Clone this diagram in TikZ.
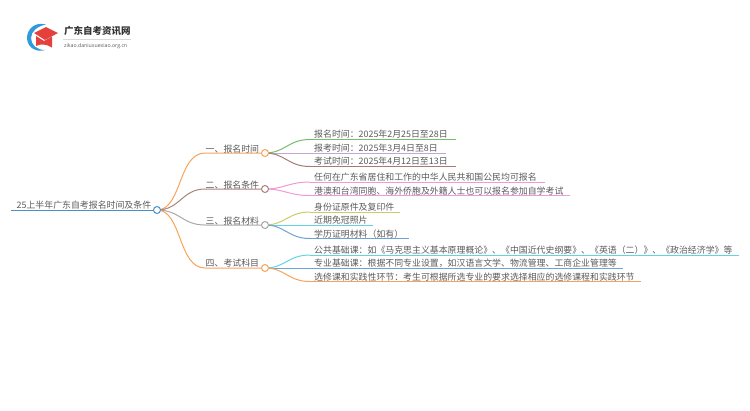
\documentclass[tikz,border=0pt]{standalone}
\usepackage{fontspec}
\setmainfont{Noto Sans CJK SC}
\newfontfamily\latinf{Open Sans}
\definecolor{txt}{HTML}{5A5A5A}
\definecolor{cblue}{HTML}{4A90C8}
\definecolor{corange}{HTML}{F9A25A}
\definecolor{cbrown}{HTML}{A9837B}
\definecolor{cgray}{HTML}{A8A8A8}
\definecolor{cgreen}{HTML}{72BF6A}
\definecolor{cpurple}{HTML}{C4A5D8}
\definecolor{cbrownb}{HTML}{A67C72}
\definecolor{cpink}{HTML}{EE9AD6}
\definecolor{colive}{HTML}{CDCB62}
\definecolor{ccyan}{HTML}{62D3E3}
\definecolor{cbl}{HTML}{6BA3D8}
\definecolor{capred}{HTML}{E5403C}
\definecolor{arcblue}{HTML}{2F9BDC}
\tikzset{
  x=1pt,y=-1pt,
  lbl/.style={inner sep=0pt,anchor=base west,text=txt,font=\fontsize{8.9pt}{10pt}\selectfont},
  wire/.style={line width=1pt},
  hub/.style={circle,draw,fill=white,line width=1pt,minimum size=7pt,inner sep=0pt},
}
\newcommand{\bcurve}[3]{\draw[wire,#1] (#2) .. controls ([xshift=20pt]#2) and ([xshift=-22pt]#3) .. (#3);}
\begin{document}
\begin{tikzpicture}
\useasboundingbox (0,0) rectangle (750,410);
% logo
\fill[arcblue] (46,24.5) .. controls (35,21.5) and (27,29) .. (27,38) .. controls (27,47) and (36,53) .. (45,50) .. controls (37,50) and (31,45) .. (31,38) .. controls (31,31) and (38,26) .. (46,24.5) -- cycle;
\fill[capred] (36,36) -- (36,46) .. controls (41,43.5) and (46,44) .. (52,47.5) -- (52,36.5) -- (44,41) -- cycle;
\fill[capred] (34,33) -- (46,27) -- (58,33) -- (45,40) -- cycle;
\node[inner sep=0pt,anchor=base west,text=black!80,font=\fontsize{9.5pt}{10pt}\selectfont\bfseries] (logot) at (64,34.5) {广东自考资讯网};
\draw[black!15,line width=.4pt] (63,39.5) -- (131,39.5);
\node[inner sep=0pt,anchor=base west,text=txt,font=\latinf\fontsize{5.2pt}{6pt}\selectfont] (logou) at (64,47.5) {zikao.daniuxuexiao.org.cn};
% anchors of underlines
\coordinate (r0) at (11,210);\coordinate (r) at (157,210);
\coordinate (a0) at (205,153);\coordinate (a) at (265,153);
\coordinate (b0) at (205,189);\coordinate (b) at (265,189);
\coordinate (c0) at (205,225);\coordinate (c) at (265,225);
\coordinate (d0) at (205,268);\coordinate (d) at (265,268);
\coordinate (a1) at (310,139.5);\coordinate (a1e) at (456,139.5);
\coordinate (a2) at (310,153);\coordinate (a2e) at (446,153);
\coordinate (a3) at (310,166.5);\coordinate (a3e) at (456,166.5);
\coordinate (b1) at (310,182);\coordinate (b1e) at (545,182);
\coordinate (b2) at (310,195.5);\coordinate (b2e) at (570,195.5);
\coordinate (c1) at (310,212);\coordinate (c1e) at (400,212);
\coordinate (c2) at (310,225);\coordinate (c2e) at (373,225);
\coordinate (c3) at (310,238.5);\coordinate (c3e) at (409,238.5);
\coordinate (d1) at (310,255);\coordinate (d1e) at (739,255);
\coordinate (d2) at (310,268);\coordinate (d2e) at (623,268);
\coordinate (d3) at (310,281.5);\coordinate (d3e) at (641,281.5);
% leaves
\bcurve{cgreen}{a}{a1}\draw[wire,cgreen] (a1)--(a1e);
\draw[wire,cpurple] (a)--(a2e);
\bcurve{cbrownb}{a}{a3}\draw[wire,cbrownb] (a3)--(a3e);
\bcurve{cpink}{b}{b1}\draw[wire,cpink] (b1)--(b1e);
\bcurve{cpink}{b}{b2}\draw[wire,cpink] (b2)--(b2e);
\bcurve{colive}{c}{c1}\draw[wire,colive] (c1)--(c1e);
\draw[wire,ccyan] (c)--(c2e);
\bcurve{cbl}{c}{c3}\draw[wire,cbl] (c3)--(c3e);
\bcurve{ccyan}{d}{d1}\draw[wire,ccyan] (d1)--(d1e);
\draw[wire,cbl] (d)--(d2e);
\bcurve{corange}{d}{d3}\draw[wire,corange] (d3)--(d3e);
% branches
\draw[wire,corange] (r) .. controls (182,210) and (178,153) .. (a0) -- (a);
\draw[wire,cbrown] (r) .. controls (180,210) and (182,189) .. (b0) -- (b);
\draw[wire,cgray] (r) .. controls (180,210) and (182,225) .. (c0) -- (c);
\draw[wire,corange] (r) .. controls (182,210) and (178,268) .. (d0) -- (d);
\draw[wire,cblue] (r0) -- (r);
% hubs
\node[hub,draw=cblue] (nr) at (r) {};
\node[hub,draw=corange] (na) at (a) {};
\node[hub,draw=cbrown] (nb) at (b) {};
\node[hub,draw=cgray] (nc) at (c) {};
\node[hub,draw=corange] (nd) at (d) {};
% labels
\node[lbl] (tr) at (16.5,208.5) {25上半年广东自考报名时间及条件};
\node[lbl] (ta) at (205.5,152) {一、报名时间};
\node[lbl] (tb) at (205.5,188) {二、报名条件};
\node[lbl] (tc) at (205.5,224) {三、报名材料};
\node[lbl] (td) at (205.5,266.5) {四、考试科目};
\node[lbl] (ta1) at (314,137.5) {报名时间：2025年2月25日至28日};
\node[lbl] (ta2) at (314,151) {报考时间：2025年3月4日至8日};
\node[lbl] (ta3) at (314,164.5) {考试时间：2025年4月12日至13日};
\node[lbl] (tb1) at (314,180.5) {任何在广东省居住和工作的中华人民共和国公民均可报名};
\node[lbl] (tb2) at (314,194) {港澳和台湾同胞、海外侨胞及外籍人士也可以报名参加自学考试};
\node[lbl] (tc1) at (314,210.5) {身份证原件及复印件};
\node[lbl] (tc2) at (314,223.5) {近期免冠照片};
\node[lbl] (tc3) at (314,237) {学历证明材料（如有）};
\node[lbl] (td1) at (314,253) {公共基础课：如《马克思主义基本原理概论》、《中国近代史纲要》、《英语（二）》、《政治经济学》等};
\node[lbl] (td2) at (314,266.5) {专业基础课：根据不同专业设置，如汉语言文学、物流管理、工商企业管理等};
\node[lbl] (td3) at (314,280) {选修课和实践性环节：考生可根据所选专业的要求选择相应的选修课程和实践环节};
\end{tikzpicture}
\end{document}
